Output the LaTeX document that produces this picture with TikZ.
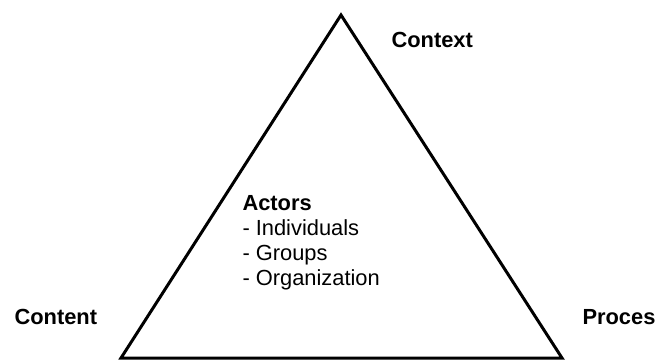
\documentclass[tikz,border=0pt]{standalone}
\usepackage{fontspec}
\setmainfont{Liberation Sans}

\tikzset{every picture/.style={line width=0.75pt}}
\tikzset{
  corner label/.style={font=\fontsize{16.4}{19}\selectfont\bfseries, inner sep=0pt, anchor=base west},
  actor list/.style={font=\fontsize{16.4}{18.75}\selectfont, inner sep=0pt, anchor=north west, align=left}
}

\begin{document}
\begin{tikzpicture}[x=0.75pt,y=0.75pt,yscale=-1,xscale=1]
		\useasboundingbox (0,0) rectangle (668,362);

		%Shape: Triangle
		\coordinate (apex) at (341,15);
		\coordinate (left) at (121,358);
		\coordinate (right) at (562,358);
		\draw [line width=2.25pt, line join=miter] (apex) -- (right) -- (left) -- cycle ;

		% Text Node
		\node [corner label] (context) at (391,47) {Context};
		% Text Node
		\node [corner label] (content) at (14,324) {Content};
		% Text Node
		\node [corner label] (proces) at (582,324) {Proces};
		% Text Node
		\node [actor list] (actors) at (242,195) {\textbf{Actors}\\- Individuals\\- Groups\\- Organization};

\end{tikzpicture}
\end{document}
